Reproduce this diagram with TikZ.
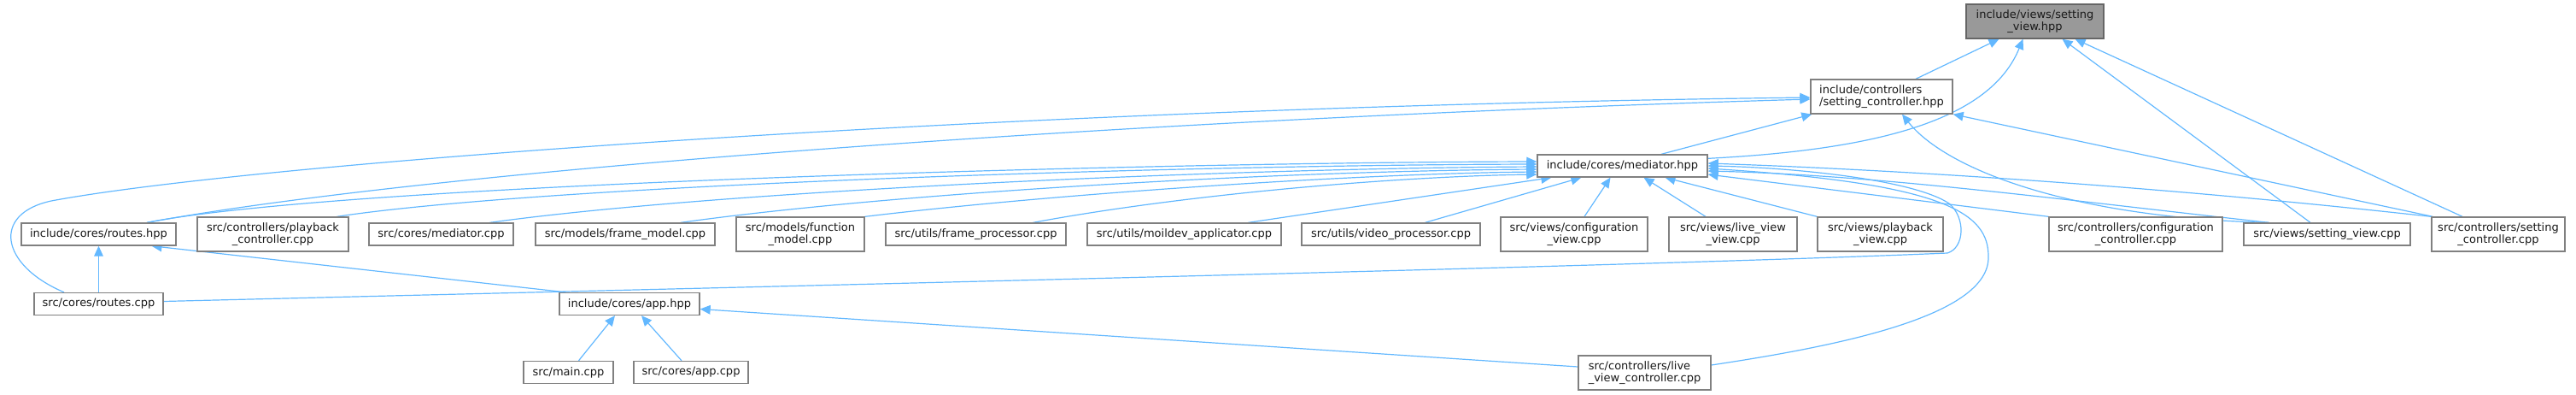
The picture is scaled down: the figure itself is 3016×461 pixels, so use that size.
\documentclass[tikz,border=0pt]{standalone}
\usepackage{fontspec}
\setmainfont{DejaVu Sans}
\usetikzlibrary{arrows.meta,calc}
\definecolor{edgecol}{HTML}{63B8FF}
\definecolor{nodeborder}{HTML}{808080}
\definecolor{rootfill}{HTML}{999999}
\definecolor{rootborder}{HTML}{666666}
\pgfdeclarelayer{bg}
\pgfsetlayers{bg,main}
\tikzset{
  box/.style={draw=nodeborder, fill=white, line width=1pt, inner sep=0pt,
    font=\fontsize{9.75}{11}\selectfont, align=center, text=black!90},
  rootbox/.style={box, fill=rootfill, draw=rootborder},
  one/.style={minimum height=19.5pt},
  two/.style={minimum height=30pt},
  edge/.style={draw=edgecol, line width=0.9pt, -{Triangle[length=9pt,width=8pt]}},
}
\begin{document}
\begin{tikzpicture}[x=0.75pt,y=-0.75pt]
\useasboundingbox (0,0) rectangle (3016,461);
% top
\node[rootbox,two,minimum width=120.75pt] (sv) at (2382.5,25) {include/views/setting\\\_view.hpp};
\node[box,two,minimum width=124.5pt,align=left] (sc) at (2203,113) {include/controllers\\/setting\_controller.hpp};
\node[box,one,minimum width=149.25pt] (med) at (1899.5,194) {include/cores/mediator.hpp};
% row 3
\node[box,one,minimum width=135.75pt] (rh) at (115.5,274) {include/cores/routes.hpp};
\node[box,two,minimum width=132.75pt] (pc) at (319.5,274) {src/controllers/playback\\\_controller.cpp};
\node[box,one,minimum width=126.75pt] (cm) at (516.5,274) {src/cores/mediator.cpp};
\node[box,one,minimum width=157.5pt] (fm) at (732,274) {src/models/frame\_model.cpp};
\node[box,two,minimum width=112.5pt] (fnm) at (937,274) {src/models/function\\\_model.cpp};
\node[box,one,minimum width=158.25pt] (fp) at (1142.5,274) {src/utils/frame\_processor.cpp};
\node[box,one,minimum width=170.25pt] (ma) at (1386.5,274) {src/utils/moildev\_applicator.cpp};
\node[box,one,minimum width=156.75pt] (vp) at (1628.5,274) {src/utils/video\_processor.cpp};
\node[box,two,minimum width=129pt] (cv) at (1843,274) {src/views/configuration\\\_view.cpp};
\node[box,two,minimum width=112.5pt] (lvv) at (2029,274) {src/views/live\_view\\\_view.cpp};
\node[box,two,minimum width=110.25pt] (pv) at (2201.5,274) {src/views/playback\\\_view.cpp};
\node[box,two,minimum width=152.25pt] (cc) at (2500.5,274) {src/controllers/configuration\\\_controller.cpp};
\node[box,one,minimum width=146.25pt] (svc) at (2724.5,274) {src/views/setting\_view.cpp};
\node[box,two,minimum width=117pt] (scc) at (2925,274) {src/controllers/setting\\\_controller.cpp};
% row 4
\node[box,one,minimum width=113.25pt] (rc) at (115.5,355.5) {src/cores/routes.cpp};
\node[box,one,minimum width=123pt] (app) at (737,355.5) {include/cores/app.hpp};
\node[box,two,minimum width=116.25pt,align=left] (lvc) at (1925.5,436) {src/controllers/live\\\_view\_controller.cpp};
% row 5
\node[box,one,minimum width=78.75pt] (main) at (665.5,435.5) {src/main.cpp};
\node[box,one,minimum width=100.5pt] (appc) at (809,435.5) {src/cores/app.cpp};

\begin{pgfonlayer}{bg}
% into setting_view.hpp
\draw[edge] ($(sc.north)+(40,0)$) -- ($(sv.south)+(-42,0)$);
\draw[edge] ($(med.north east)+(0,5)$) .. controls (2200,175) and (2330,140) .. ($(sv.south)+(-14,0)$);
\draw[edge] ($(svc.north)+(-19.5,0)$) -- ($(sv.south)+(32,0)$);
\draw[edge] ($(scc.north)+(-42,0)$) -- ($(sv.south)+(47,0)$);
% into setting_controller.hpp
\draw[edge] ($(med.north)+(45.5,0)$) -- ($(sc.south west)+(2,0)$);
\draw[edge] ($(rh.north)+(56.5,0)$) .. controls (500,200) and (1300,140) .. ($(sc.west)+(0,3)$);
\draw[edge] ($(rc.north)+(-40.5,0)$) .. controls (0,310) and (-10,250) .. (60,235)
   .. controls (300,190) and (1200,125) .. ($(sc.west)+(0,1)$);
\draw[edge] ($(svc.north west)+(30,0)$) .. controls (2430,255) and (2280,200) .. ($(sc.south)+(24,0)$);
\draw[edge] ($(scc.north west)+(2,0)$) -- (sc.south east);
% into mediator.hpp from the left
\draw[edge] ($(rh.north)+(56.5,0)$) .. controls (400,215) and (1350,190) .. ($(med.west)+(0,-5)$);
\draw[edge] ($(pc.north)+(75,0)$) .. controls (650,215) and (1400,193) .. ($(med.west)+(0,-2)$);
\draw[edge] ($(cm.north)+(57,0)$) .. controls (850,222) and (1450,197) .. ($(med.west)+(0,1)$);
\draw[edge] ($(fm.north)+(65,0)$) .. controls (1050,225) and (1500,200) .. ($(med.west)+(0,4)$);
\draw[edge] (fnm.north east) .. controls (1250,225) and (1600,203) .. ($(med.west)+(0,7)$);
\draw[edge] ($(fp.north)+(67,0)$) .. controls (1400,225) and (1650,206) .. ($(med.west)+(0,10)$);
\draw[edge] ($(ma.north)+(75,0)$) -- ($(med.south west)+(17,0)$);
\draw[edge] ($(vp.north)+(40,0)$) -- ($(med.south west)+(52,0)$);
\draw[edge] ($(cv.north)+(12,0)$) -- ($(med.south)+(-14,0)$);
\draw[edge] ($(lvv.north)+(-32,0)$) -- ($(med.south)+(25,0)$);
\draw[edge] (pv.north west) -- ($(med.south)+(50,0)$);
% into mediator.hpp from the right
\draw[edge] (cc.north west) -- ($(med.east)+(0,10)$);
\draw[edge] ($(svc.north west)+(30,0)$) .. controls (2400,232) and (2200,205) .. ($(med.east)+(0,6)$);
\draw[edge] (scc.north west) .. controls (2500,215) and (2200,198) .. ($(med.east)+(0,-3)$);
\draw[edge] ($(rc.east)+(0,-3)$) .. controls (900,335) and (1900,312) .. (2280,296)
   .. controls (2300,290) and (2302,255) .. (2282,238)
   .. controls (2240,210) and (2100,196) .. ($(med.east)+(0,0)$);
\draw[edge] ($(lvc.east)+(0,-9)$) .. controls (2150,405) and (2330,370) .. (2328,300)
   .. controls (2328,250) and (2280,215) .. ($(med.east)+(0,3)$);
% routes / app
\draw[edge] (rc.north) -- (rh.south);
\draw[edge] ($(app.north west)+(8,0)$) -- ($(rh.south)+(62,0)$);
\draw[edge] ($(main.north)+(12,0)$) -- ($(app.south)+(-17,0)$);
\draw[edge] ($(appc.north)+(-11,0)$) -- ($(app.south)+(14,0)$);
\draw[edge] ($(lvc.west)+(0,-7)$) -- ($(app.east)+(0,6)$);
\end{pgfonlayer}
\end{tikzpicture}
\end{document}
